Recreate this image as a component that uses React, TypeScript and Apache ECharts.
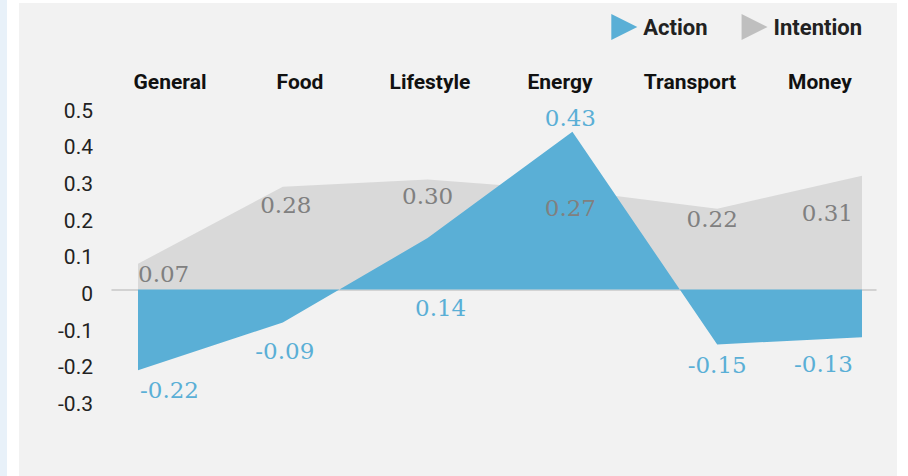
import React, { useEffect, useRef } from "react";
import * as echarts from "echarts";

const categories = ["General", "Food", "Lifestyle", "Energy", "Transport", "Money"];
const actionValues = [-0.22, -0.09, 0.14, 0.43, -0.15, -0.13];
const intentionValues = [0.07, 0.28, 0.3, 0.27, 0.22, 0.31];
const yMin = -0.3;
const yMax = 0.5;
const yStep = 0.1;

const ACTION_COLOR = "#5aafd6";
const INTENTION_AREA = "#d9d9d9";
const INTENTION_ICON = "#bfbfbf";
const INTENTION_LABEL = "#808080";

// label placement (layout only): [dx, dy] from the point
const actionLabelOffsets: [number, number][] = [[2, 20], [2, 29], [13, 70], [-2, -14], [0, 21], [-9, 27]];
const intentionLabelOffsets: [number, number][] = [[0, 10], [3, 18], [0, 17], [-2, 18], [-5, 10], [-9, 37]];

function buildData(values: number[], offsets: [number, number][]) {
  const n = values.length;
  return values.map((v, i) => ({
    value: [i, v],
    label: {
      align: i === 0 ? "left" : i === n - 1 ? "right" : "center",
      offset: offsets[i],
    },
  }));
}

export default function App() {
  const ref = useRef<HTMLDivElement>(null);
  useEffect(() => {
    if (!ref.current) return;
    const chart = echarts.init(ref.current, undefined, { renderer: "svg" });
    const serifLabel = {
      show: true,
      position: "inside",
      fontFamily: "DejaVu Serif",
      fontSize: 23,
      verticalAlign: "middle",
      formatter: (p: any) => p.value[1].toFixed(2),
    };
    const areaSeries = (name: string, values: number[], color: string, z: number) => ({
      name,
      type: "line",
      xAxisIndex: 0,
      yAxisIndex: 0,
      data: values.map((v, i) => [i, v]),
      symbol: "none",
      itemStyle: { color },
      lineStyle: { width: 0 },
      areaStyle: { color, opacity: 1 },
      z,
    });
    const labelSeries = (name: string, values: number[], offsets: [number, number][], color: string, z: number) => ({
      name,
      type: "line",
      xAxisIndex: 0,
      yAxisIndex: 0,
      data: buildData(values, offsets),
      symbol: "circle",
      symbolSize: 1,
      itemStyle: { color: "rgba(0,0,0,0)" },
      lineStyle: { width: 0, opacity: 0 },
      label: { ...serifLabel, color },
      z,
    });
    const option: any = {
      animation: false,
      backgroundColor: "#ffffff",
      graphic: [
        { type: "rect", z: -10, silent: true, shape: { x: 0, y: 0, width: 7, height: 476 }, style: { fill: "#e8f1f9" } },
        { type: "rect", z: -10, silent: true, shape: { x: 19, y: 3, width: 878, height: 473 }, style: { fill: "#f2f2f2" } },
      ],
      legend: {
        right: 41,
        top: 9,
        itemWidth: 28,
        itemHeight: 26,
        itemGap: 34,
        textStyle: { fontFamily: "Roboto", fontWeight: "bold", fontSize: 22, color: "#222" },
        lineStyle: { opacity: 0 },
        data: [
          { name: "Action", icon: "path://M0,0L10,5L0,10Z", itemStyle: { color: ACTION_COLOR } },
          { name: "Intention", icon: "path://M0,0L10,5L0,10Z", itemStyle: { color: INTENTION_ICON } },
        ],
      },
      grid: [
        { left: 112, right: 32, top: 106, bottom: 76.5 },
        { left: 105, right: 23, top: 100, height: 10 },
      ],
      xAxis: [
        {
          gridIndex: 0,
          type: "value",
          min: -0.1796,
          max: 5.0967,
          axisLine: { show: true, onZero: true, lineStyle: { color: "#c8c8c8", width: 1.5 } },
          axisTick: { show: false },
          axisLabel: { show: false },
          splitLine: { show: false },
        },
        {
          gridIndex: 1,
          type: "category",
          position: "top",
          data: categories,
          boundaryGap: true,
          axisLine: { show: false },
          axisTick: { show: false },
          splitLine: { show: false },
          axisLabel: { margin: 8, fontFamily: "Roboto", fontWeight: "bold", fontSize: 21, color: "#111" },
        },
      ],
      yAxis: [
        {
          gridIndex: 0,
          type: "value",
          min: yMin,
          max: yMax,
          interval: yStep,
          axisLine: { show: false },
          axisTick: { show: false },
          splitLine: { show: false },
          axisLabel: {
            margin: 19,
            formatter: (v: number) => "{t|" + (Math.abs(v) < 1e-9 ? "0" : (Math.round(v * 10) / 10).toString()) + "}",
            rich: {
              t: {
                fontFamily: "Roboto",
                fontSize: 21,
                color: "#222",
                padding: [9, 0, 0, 0],
              },
            },
          },
        },
        { gridIndex: 1, type: "value", show: false },
      ],
      series: [
        areaSeries("Intention", intentionValues, INTENTION_AREA, 1),
        areaSeries("Action", actionValues, ACTION_COLOR, 2),
        labelSeries("Intention", intentionValues, intentionLabelOffsets, INTENTION_LABEL, 3),
        labelSeries("Action", actionValues, actionLabelOffsets, ACTION_COLOR, 3),
      ],
    };
    chart.setOption(option);
    return () => chart.dispose();
  }, []);
  return <div ref={ref} style={{ position: "fixed", left: 0, top: 0, width: 908, height: 476 }} />;
}
